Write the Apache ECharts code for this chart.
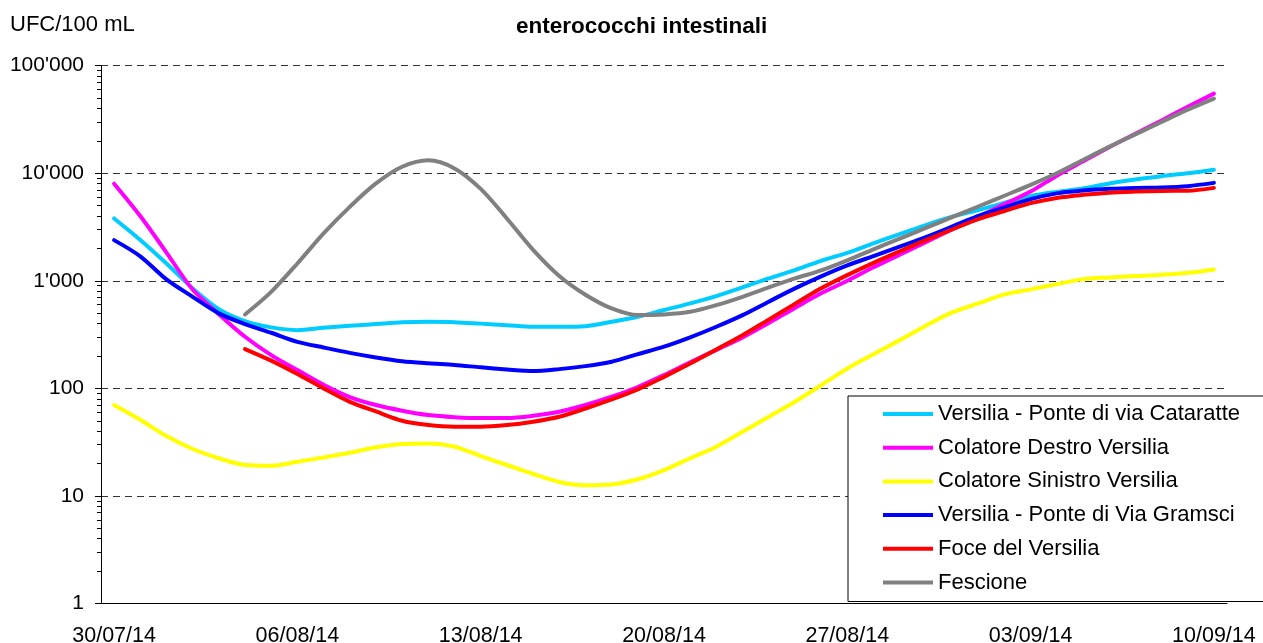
<!DOCTYPE html>
<html>
<head>
<meta charset="utf-8">
<script src="https://cdn.jsdelivr.net/npm/echarts@6/dist/echarts.min.js"></script>
<style>
  html, body { margin: 0; padding: 0; background: #fff; }
  #chart { width: 1263px; height: 643px; }
</style>
</head>
<body>
<div id="chart"></div>
<script>
// giorni di campionamento (asse x)
const dates = [
  "30/07/14", "31/07/14", "01/08/14", "02/08/14", "03/08/14", "04/08/14", "05/08/14",
  "06/08/14", "07/08/14", "08/08/14", "09/08/14", "10/08/14", "11/08/14", "12/08/14",
  "13/08/14", "14/08/14", "15/08/14", "16/08/14", "17/08/14", "18/08/14", "19/08/14",
  "20/08/14", "21/08/14", "22/08/14", "23/08/14", "24/08/14", "25/08/14", "26/08/14",
  "27/08/14", "28/08/14", "29/08/14", "30/08/14", "31/08/14", "01/09/14", "02/09/14",
  "03/09/14", "04/09/14", "05/09/14", "06/09/14", "07/09/14", "08/09/14", "09/09/14",
  "10/09/14"
];

// UFC/100 mL
const cataratte = [3800, 2400, 1450, 850, 545, 422, 369, 348, 366, 382, 396, 411, 416, 413,
  400, 387, 374, 374, 379, 416, 463, 535, 617, 721, 868, 1052, 1258, 1535,
  1820, 2230, 2720, 3300, 3940, 4540, 5310, 6130, 6710, 7220, 8040, 8760, 9400, 10000, 10800];
const colatoreDestro = [8000, 4000, 1830, 830, 490, 302, 204, 148, 108, 83, 70, 62, 56.5, 54,
  53, 53, 55.6, 60.6, 70, 83.6, 103, 133, 175, 228, 298, 405, 560, 766,
  1000, 1335, 1750, 2290, 3000, 3940, 5160, 6760, 9500, 12900, 17500, 23300, 31000, 41500, 55000];
const colatoreSinistro = [70, 51, 36, 27.3, 22.4, 19.4, 19.1, 20.8, 22.8, 25.2, 28.3, 30.4, 30.8, 28.7,
  23.5, 19.4, 16, 13.5, 12.6, 12.8, 14.3, 17.4, 22.4, 28.7, 39.5, 54.5, 75, 107,
  153, 208, 281, 382, 508, 617, 748, 832, 931, 1037, 1076, 1107, 1138, 1186, 1276];
const gramsci = [2390, 1690, 1030, 710, 498, 396, 329, 271, 240, 214, 194, 179, 171, 165,
  157, 150, 145, 151, 161, 177, 208, 244, 298, 374, 480, 640, 850, 1100,
  1390, 1700, 2080, 2550, 3190, 4020, 4810, 5740, 6500, 6900, 7160, 7310, 7380, 7590, 8140];
const foce = [null, null, null, null, null, 232, 181, 136, 100, 75, 61, 50, 45.6, 44,
  44, 45.6, 49, 54.5, 65, 79, 98, 128, 170, 230, 312, 436, 610, 851,
  1130, 1470, 1880, 2390, 3000, 3750, 4460, 5270, 5900, 6300, 6600, 6750, 6850, 6870, 7310];
const fescione = [null, null, null, null, null, 487, 790, 1450, 2760, 4870, 8040, 11500, 13200, 11100,
  7160, 3800, 1940, 1110, 743, 554, 480, 487, 515, 594, 710, 868, 1052, 1250,
  1550, 1960, 2470, 3100, 3910, 4910, 6180, 7800, 10000, 13300, 17600, 23000, 30000, 39000, 49500];

// suddivisioni secondarie dell'asse logaritmico (2..9 per decade)
const minorTicks = [];
[1, 10, 100, 1000, 10000].forEach((d) => {
  for (let k = 2; k <= 9; k++) minorTicks.push(Math.log10(k * d));
});

const font = "'Liberation Sans', Arial, sans-serif";

const myChart = echarts.init(document.getElementById("chart"));

const lineSeries = (name, color, data) => ({
  name: name,
  type: "line",
  data: data,
  smooth: 0.3,
  symbol: "none",
  connectNulls: false,
  lineStyle: { color: color, width: 4, cap: "round", join: "round" },
  itemStyle: { color: color },
});

const option = {
  backgroundColor: "#fff",
  animation: false,
  textStyle: { fontFamily: font },
  title: [
    {
      text: "UFC/100 mL",
      left: 10,
      top: 14,
      padding: 0,
      textStyle: { fontSize: 22, fontWeight: "normal", color: "#000", fontFamily: font },
    },
    {
      text: "enterococchi intestinali",
      left: 516,
      top: 15,
      padding: 0,
      textStyle: { fontSize: 22.5, fontWeight: "bold", color: "#000", fontFamily: font },
    },
  ],
  grid: {
    left: 101,
    right: 36,
    top: 65.7,
    bottom: 39.5,
    containLabel: false,
    outerBoundsMode: "none",
  },
  legend: {
    orient: "vertical",
    left: 848,
    top: 396,
    padding: [7, 40, 8, 35],
    itemGap: 11.7,
    itemWidth: 50,
    itemHeight: 4,
    icon: "rect",
    backgroundColor: "#fff",
    borderColor: "#000",
    borderWidth: 1,
    borderRadius: 0,
    textStyle: { fontSize: 22, lineHeight: 22, color: "#000", fontFamily: font },
  },
  xAxis: {
    type: "category",
    data: dates,
    boundaryGap: true,
    axisLine: { lineStyle: { color: "#000", width: 1 } },
    axisTick: { interval: 6, length: 6, lineStyle: { color: "#000" } },
    axisLabel: { interval: 6, margin: 22, fontSize: 21.5, color: "#000", fontFamily: font },
    splitLine: { show: false },
  },
  yAxis: [
    {
      type: "log",
      logBase: 10,
      min: 1,
      max: 100000,
      axisLine: { show: true, lineStyle: { color: "#000", width: 1 } },
      axisTick: { show: true, length: 6, lineStyle: { color: "#000" } },
      axisLabel: {
        margin: 17,
        fontSize: 21,
        color: "#000",
        fontFamily: font,
        formatter: (v) => String(Math.round(v)).replace(/\B(?=(\d{3})+(?!\d))/g, "'"),
      },
      splitLine: { show: true, lineStyle: { color: "#333", width: 1, type: [7, 5] } },
    },
    {
      // solo per le tacche secondarie (scala in esponenti di 10)
      type: "value",
      min: 0,
      max: 5,
      position: "left",
      axisLine: { show: false },
      axisTick: { show: true, length: 4, customValues: minorTicks, lineStyle: { color: "#000" } },
      axisLabel: { show: false },
      splitLine: { show: false },
    },
  ],
  series: [
    lineSeries("Versilia - Ponte di via Cataratte", "#00CCFF", cataratte),
    lineSeries("Colatore Destro Versilia", "#FF00FF", colatoreDestro),
    lineSeries("Colatore Sinistro Versilia", "#FFFF00", colatoreSinistro),
    lineSeries("Versilia - Ponte di Via Gramsci", "#0000FF", gramsci),
    lineSeries("Foce del Versilia", "#FF0000", foce),
    lineSeries("Fescione", "#808080", fescione),
  ],
};

myChart.setOption(option);
</script>
</body>
</html>
